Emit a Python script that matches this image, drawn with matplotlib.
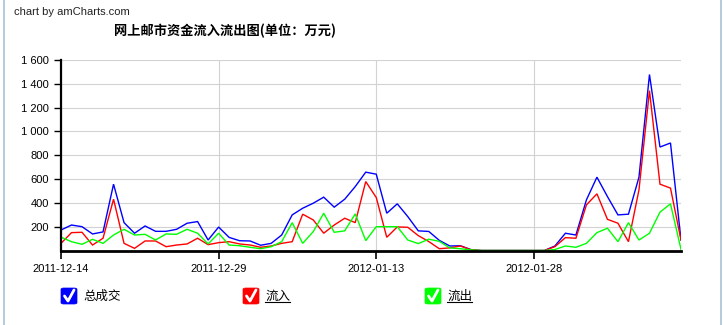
import numpy as np
import pandas as pd
import matplotlib
matplotlib.use("Agg")
import matplotlib.pyplot as plt
from matplotlib.patches import FancyBboxPatch
from matplotlib.lines import Line2D
from matplotlib.ticker import FuncFormatter

W, H = 723, 325

# daily values, 2011-12-14 .. 2012-02-11 (万元)
dates = pd.date_range("2011-12-14", "2012-02-11", freq="D")
total = [172, 214, 200, 139, 156, 557, 234, 145, 206, 161,
         161, 178, 229, 243, 88, 197, 110, 82, 80, 44,
         60, 130, 299, 355, 397, 448, 364, 431, 537, 658,
         641, 313, 392, 285, 165, 160, 85, 38, 40, 8,
         0, 0, 0, 0, 0, 0, 0, 38, 145, 130,
         425, 616, 453, 299, 305, 616, 1478, 869, 903, 88]
inflow = [60, 150, 153, 46, 103, 431, 60, 18, 80, 80,
          32, 46, 55, 103, 49, 66, 74, 55, 46, 27,
          38, 60, 74, 305, 257, 145, 214, 271, 234, 579,
          445, 111, 198, 195, 125, 75, 15, 22, 38, 6,
          0, 0, 0, 0, 0, 0, 0, 32, 108, 103,
          383, 476, 262, 229, 74, 509, 1343, 557, 524, 88]
outflow = [112, 74, 52, 94, 60, 130, 178, 130, 136, 88,
           139, 136, 178, 145, 55, 145, 46, 40, 27, 15,
           32, 74, 234, 60, 158, 313, 153, 165, 307, 83,
           200, 200, 200, 88, 58, 95, 77, 22, 15, 5,
           0, 0, 0, 0, 0, 0, 0, 8, 38, 27,
           60, 150, 187, 74, 234, 88, 145, 322, 392, 10]
tick_dates = ["2011-12-14", "2011-12-29", "2012-01-13", "2012-01-28"]
y_ticks = [200, 400, 600, 800, 1000, 1200, 1400, 1600]

series = [("总成交", total, "#0000ff", False),
          ("流入", inflow, "#ff0000", True),
          ("流出", outflow, "#00ff00", True)]

cjk = ["Noto Sans CJK SC", "DejaVu Sans"]
latin = ["Liberation Sans", "DejaVu Sans"]


def px(x, y):
    # pixel position from top-left -> figure fraction
    return x / W, 1 - y / H


fig = plt.figure(figsize=(W / 100, H / 100), dpi=100)
ax = fig.add_axes([61 / W, (H - 250.5) / H, 620 / W, 190.5 / H])

for name, vals, color, _ in series:
    ax.plot(dates, vals, color=color, lw=1.0, solid_joinstyle="miter")

ax.set_xlim(dates[0], dates[-1])
ax.set_ylim(0, 1600)
ax.set_yticks(y_ticks)
ax.yaxis.set_major_formatter(FuncFormatter(lambda v, p: f"{int(v):,}".replace(",", " ")))
ax.set_xticks(pd.to_datetime(tick_dates))
ax.set_xticklabels(tick_dates)

ax.set_axisbelow(True)
ax.grid(True, color="#d2d2d2", lw=0.8)
for s in ["top", "right"]:
    ax.spines[s].set_visible(False)
ax.spines["left"].set_linewidth(1.6)
ax.spines["bottom"].set_linewidth(2.0)
ax.tick_params(axis="y", direction="out", length=5, width=1, pad=3.5)
ax.tick_params(axis="x", direction="out", length=6, width=1.2, pad=4)
for lab in ax.get_xticklabels() + ax.get_yticklabels():
    lab.set_family(latin)
    lab.set_fontsize(8)

# header texts
fig.text(*px(14, 12), "chart by amCharts.com", family=latin, fontsize=8,
         color="#222222", ha="left", va="center")
fig.text(*px(225, 31), "网上邮市资金流入流出图(单位：万元)", family=cjk,
         fontsize=9.5, fontweight="bold", ha="center", va="center")

# thin frame lines at the sides
for xx in [3.5, 720.5]:
    fig.add_artist(Line2D([xx / W, xx / W], [0, 1], color="#a9c2d3", lw=1.2))

# legend with check boxes
legend_x = [61, 243, 425]
texts = []
for (name, vals, color, underline), bx in zip(series, legend_x):
    x0, y0 = px(bx, 304)
    box = FancyBboxPatch((x0, y0), 16 / W, 16 / H,
                         boxstyle="round,pad=0,rounding_size=0.004",
                         transform=fig.transFigure, facecolor=color,
                         edgecolor=color, lw=0.5)
    fig.add_artist(box)
    cx = [bx + 3.5, bx + 7, bx + 13]
    cy = [296, 301, 290]
    fig.add_artist(Line2D([c / W for c in cx], [1 - c / H for c in cy],
                          color="white", lw=2.0, solid_capstyle="round"))
    t = fig.text(*px(bx + 22, 296), name, family=cjk, fontsize=9,
                 ha="left", va="center")
    texts.append((t, underline))

fig.canvas.draw()
for t, underline in texts:
    if underline:
        bb = t.get_window_extent()
        yy = (bb.y0 + 0.5) / H
        fig.add_artist(Line2D([bb.x0 / W, bb.x1 / W], [yy, yy],
                              color="black", lw=0.8))

fig.savefig("out.png", dpi=100, facecolor="white")
